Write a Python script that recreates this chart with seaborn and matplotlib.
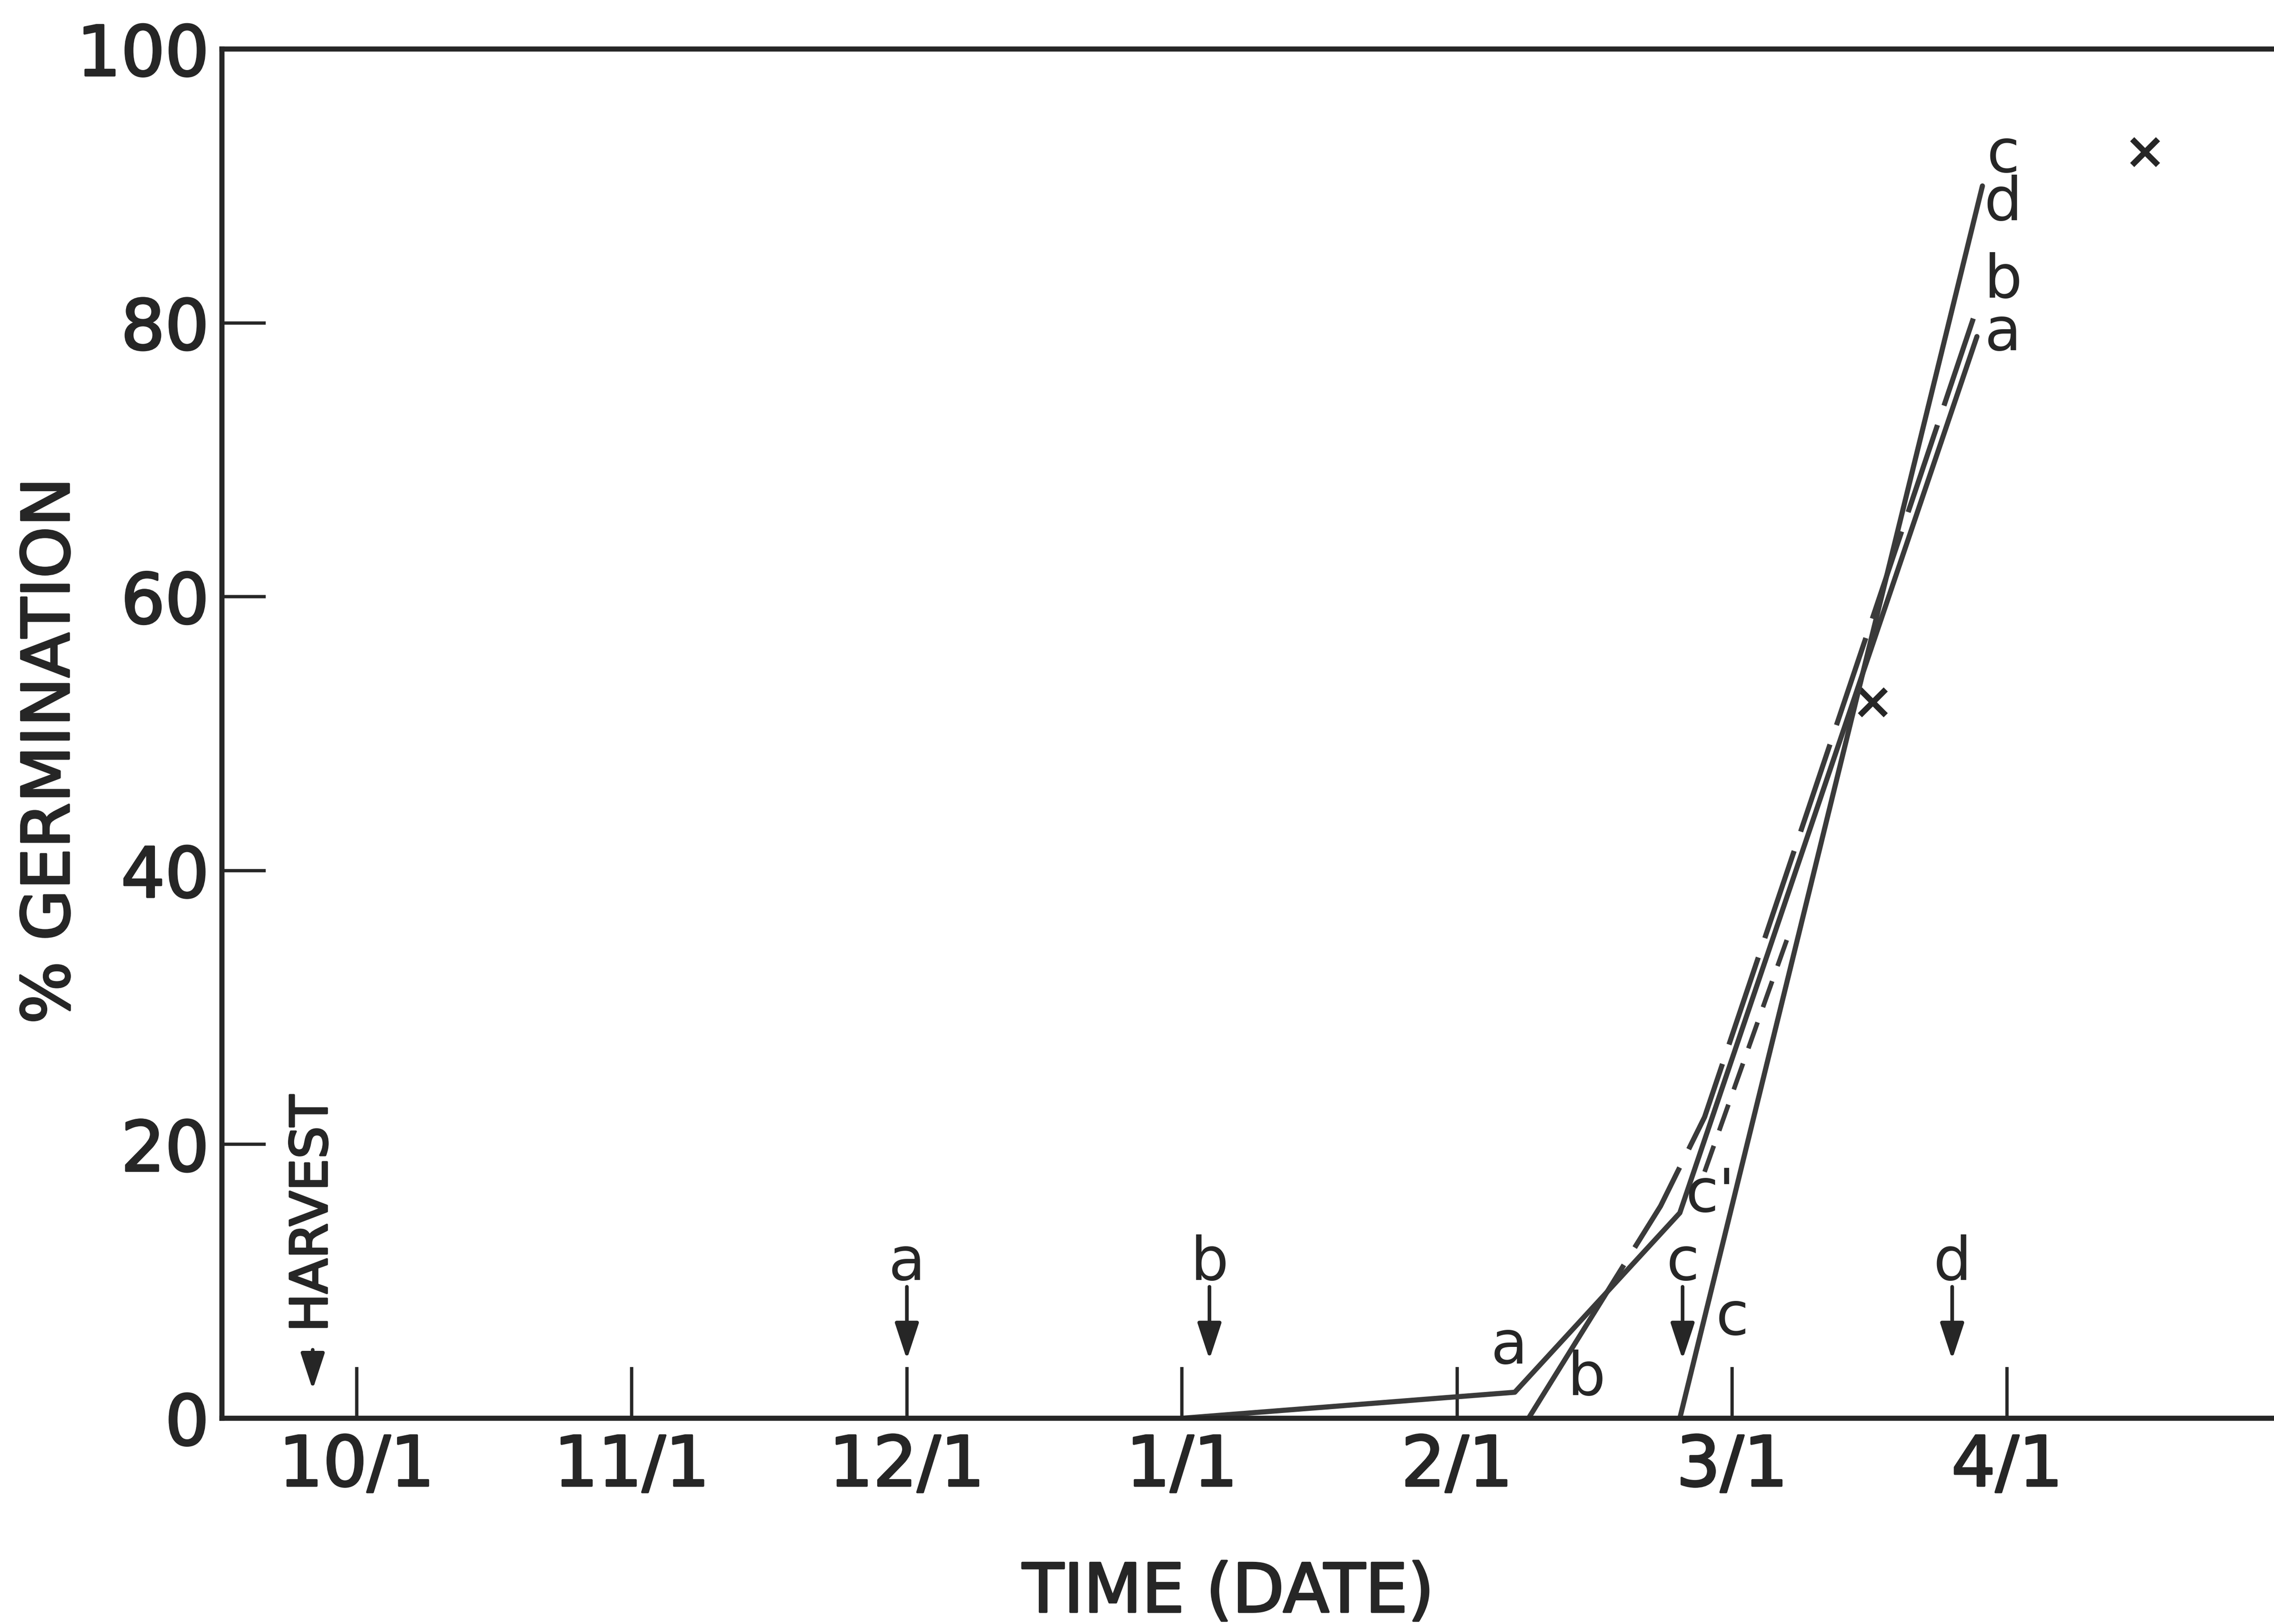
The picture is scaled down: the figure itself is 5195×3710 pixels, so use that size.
import matplotlib
matplotlib.use("Agg")
import matplotlib.pyplot as plt
import matplotlib.patheffects as pe
import seaborn as sns

# ---- data (x in months after 10/1, y in % germination) ----
month_labels = ["10/1", "11/1", "12/1", "1/1", "2/1", "3/1", "4/1"]
month_ticks = [0, 1, 2, 3, 4, 5, 6]
pct_ticks = [0, 20, 40, 60, 80, 100]

a_month = [3.0, 4.21, 4.81, 5.89]
a_pct = [0.0, 1.9, 15.0, 79.0]

b_start_month = [4.26, 4.43]
b_start_pct = [0.0, 5.5]
b_month = [4.43, 4.74, 4.90, 5.90]
b_pct = [5.5, 15.5, 22.0, 81.7]

c_month = [4.81, 5.91]
c_pct = [0.0, 90.0]

c2_month = [4.90, 5.20]
c2_pct = [18.0, 35.0]

x_month = [5.51, 6.50]
x_pct = [52.3, 92.5]

treat_labels = ["a", "b", "c", "d"]
treat_month = [2.0, 3.10, 4.82, 5.80]
harvest_month = -0.16

end_labels = ["c", "d", "b", "a"]

# ---- style ----
sns.set_theme(style="ticks")
plt.rcParams["font.family"] = ["DejaVu Sans"]
INK = "#262626"
LINE = "#3a3a3a"
LW = 2.8
BOLDEN = [pe.withStroke(linewidth=1.1, foreground=INK)]

W, H, DPI = 5195, 3710, 300
fig = plt.figure(figsize=(W / DPI, H / DPI), dpi=DPI, facecolor="white")
ax = fig.add_axes([507 / W, 1 - 3240 / H, 1 - 507 / W, (3240 - 112) / H])
ax.set_facecolor("white")

# ---- curves ----
sns.lineplot(x=a_month, y=a_pct, ax=ax, color=LINE, lw=LW, estimator=None, sort=False)
sns.lineplot(x=b_start_month, y=b_start_pct, ax=ax, color=LINE, lw=LW, estimator=None, sort=False)
sns.lineplot(x=b_month, y=b_pct, ax=ax, color=LINE, lw=LW, estimator=None, sort=False,
             linestyle=(0, (18, 4)))
sns.lineplot(x=c_month, y=c_pct, ax=ax, color=LINE, lw=LW, estimator=None, sort=False)
sns.lineplot(x=c2_month, y=c2_pct, ax=ax, color=LINE, lw=LW * 0.9, estimator=None, sort=False,
             linestyle=(0, (6, 3.5)))
sns.scatterplot(x=x_month, y=x_pct, ax=ax, marker="x", s=200, color=INK, linewidth=3.2)

# ---- axes ----
ax.set_xlim(-0.49, 6.97)
ax.set_ylim(0, 100)
ax.set_xticks(month_ticks)
ax.set_xticklabels(month_labels)
ax.set_yticks(pct_ticks)
ax.set_yticklabels([str(v) for v in pct_ticks])
ax.tick_params(axis="x", direction="in", length=28, width=1.8, pad=8,
               labelsize=38, colors=INK)
ax.tick_params(axis="y", direction="in", length=24, width=1.8, pad=7,
               labelsize=38, colors=INK)
for t in ax.get_xticklabels() + ax.get_yticklabels():
    t.set_path_effects(BOLDEN)
ax.spines["right"].set_visible(False)
for s in ("left", "bottom", "top"):
    ax.spines[s].set_linewidth(2.8)
    ax.spines[s].set_color(INK)
ax.set_xlabel("")
ax.set_ylabel("")

fig.text(2806 / W, 1 - 3640 / H, "TIME (DATE)", ha="center", va="center",
         fontsize=37, color=INK, path_effects=BOLDEN)
fig.text(116 / W, 1 - 1715 / H, "% GERMINATION", ha="center", va="center",
         rotation=90, fontsize=36, color=INK, path_effects=BOLDEN)

# ---- treatment arrows ----
arrow_style = "-|>,head_length=0.85,head_width=0.28"
for lab, m in zip(treat_labels, treat_month):
    ax.annotate("", xy=(m, 4.3), xytext=(m, 9.6),
                arrowprops=dict(arrowstyle=arrow_style, mutation_scale=20,
                                lw=2.0, color=INK, shrinkA=0, shrinkB=0))
    ax.text(m, 10.1, lab, ha="center", va="baseline", fontsize=33, color=INK)

# harvest marker
ax.annotate("", xy=(harvest_month, 2.1), xytext=(harvest_month, 5.0),
            arrowprops=dict(arrowstyle=arrow_style, mutation_scale=20,
                            lw=2.0, color=INK, shrinkA=0, shrinkB=0))
ax.text(harvest_month, 6.3, "HARVEST", rotation=90, rotation_mode="anchor",
        ha="left", va="center", fontsize=28, color=INK, path_effects=BOLDEN)

# ---- curve labels ----
lab_kw = dict(ha="center", va="baseline", fontsize=33, color=INK)
ax.text(4.19, 4.0, "a", **lab_kw)
ax.text(4.47, 1.7, "b", **lab_kw)
ax.text(5.00, 6.1, "c", **lab_kw)
ax.text(4.92, 15.1, "c'", **lab_kw)
# stacked end-of-curve labels, two letters per text block (anchored on the lower line)
ax.text(5.985, 87.5, "\n".join(end_labels[:2]), linespacing=0.78,
        multialignment="center", **lab_kw)
ax.text(5.985, 78.0, "\n".join(end_labels[2:]), linespacing=0.88,
        multialignment="center", **lab_kw)

fig.savefig("out.png", dpi=DPI, facecolor="white")
